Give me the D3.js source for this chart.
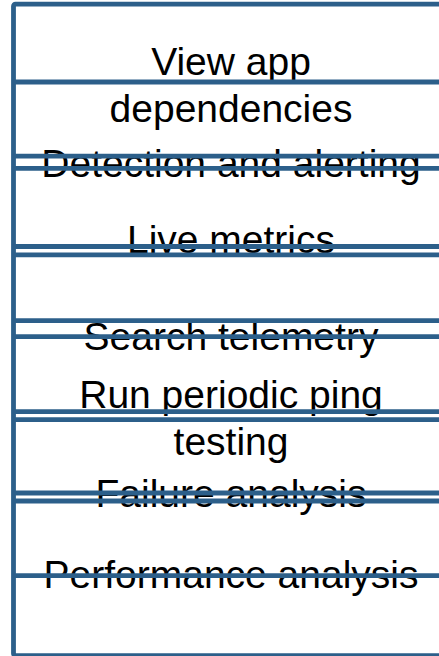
<!DOCTYPE html>
<html>
<head>
<meta charset="utf-8">
<script src="https://cdn.jsdelivr.net/npm/d3@7"></script>
<style>
  html, body { margin: 0; padding: 0; background: #FFFFFF; }
  svg { display: block; }
</style>
</head>
<body>
<script>
// Labels, top to bottom (wrapped labels use "|" as the line break)
const labels = [
    "View app|dependencies",
    "Detection and alerting",
    "Live metrics",
    "Search telemetry",
    "Run periodic ping|testing",
    "Failure analysis",
    "Performance analysis"
];
// Baseline of each label's first line, in page units down the column
const labelPos = [75, 176.5, 252.5, 350, 408, 506.5, 588];
// Horizontal separator rules, in the same units
const separators = [82, 156.2, 168.3, 246.5, 254.8, 320.6, 336.6, 411.7, 419.7, 493, 501, 575.7];
// Column frame extent
const frameTop = 4.2;
const frameBottom = 655.6;

const WIDTH = 439, HEIGHT = 656;
const COLOR = "#2C5F8A";
const FONT = 39;
const LINE_GAP = 47;

const svg = d3.select("body").append("svg")
    .attr("xmlns", "http://www.w3.org/2000/svg")
    .attr("width", WIDTH)
    .attr("height", HEIGHT)
    .style("background-color", "#FFFFFF")
    .style("font-family", "'Liberation Sans', Arial, Helvetica, sans-serif");

// one unit of the column = one pixel of the page
const y = d3.scaleLinear().domain([0, HEIGHT]).range([0, HEIGHT]);
const left = 13.5, right = 448.5;
const cx = (left + right) / 2;

// frame (the right side runs off the page)
svg.append("rect")
    .attr("x", left)
    .attr("y", y(frameTop))
    .attr("width", right - left)
    .attr("height", y(frameBottom) - y(frameTop))
    .attr("rx", 2)
    .attr("fill", "none")
    .attr("stroke", COLOR)
    .attr("stroke-width", 4.8);

// labels
const text = svg.append("g").selectAll("text")
    .data(labels)
    .join("text")
    .attr("x", cx)
    .attr("y", (d, i) => y(labelPos[i]))
    .attr("text-anchor", "middle")
    .attr("font-size", FONT)
    .attr("fill", "#000000");

text.selectAll("tspan")
    .data(d => d.split("|"))
    .join("tspan")
    .attr("x", cx)
    .attr("dy", (d, i) => i === 0 ? 0 : LINE_GAP)
    .text(d => d);

// separator rules are drawn over the text
svg.append("g").selectAll("line")
    .data(separators)
    .join("line")
    .attr("x1", left)
    .attr("x2", right)
    .attr("y1", d => y(d))
    .attr("y2", d => y(d))
    .attr("stroke", COLOR)
    .attr("stroke-width", 4.8);
</script>
</body>
</html>
